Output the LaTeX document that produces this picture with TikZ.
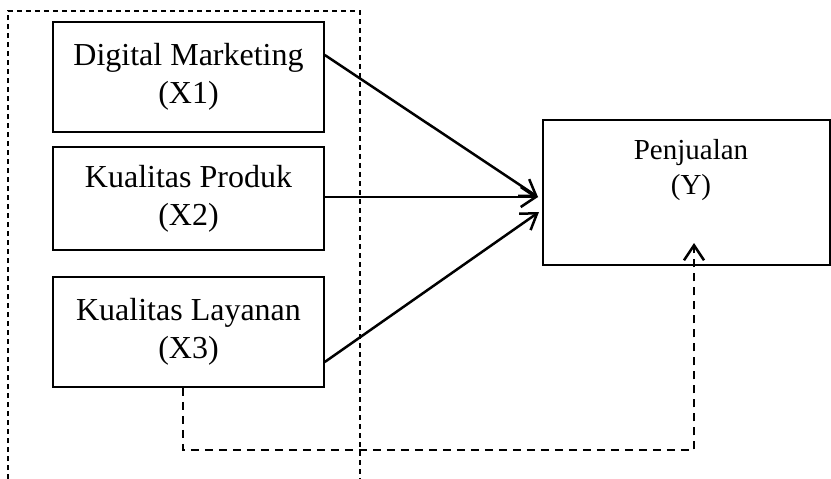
\documentclass[tikz,border=0pt]{standalone}
\usepackage{fontspec}
\setmainfont{Liberation Serif}
\usetikzlibrary{arrows.meta}
\begin{document}
\begin{tikzpicture}[x=1pt,y=-1pt,
  varbox/.style={draw, line width=1.5pt, minimum width=271pt, minimum height=110pt,
    align=center, inner sep=0pt, font=\fontsize{32}{38}\selectfont},
  depbox/.style={draw, line width=1.5pt, minimum width=287pt, minimum height=145pt, inner sep=0pt},
  deplabel/.style={align=center, inner sep=0pt, font=\fontsize{29}{35}\selectfont},
  frame/.style={dashed, dash pattern=on 5pt off 4pt, line width=1.2pt},
  link/.style={line width=2.5pt, -{Straight Barb[length=15pt,width=20pt,line width=2.5pt]}},
  dlink/.style={link, dash pattern=on 8pt off 6pt}]
\useasboundingbox (0,0) rectangle (831,479);

% independent variables
\node[varbox] (x1) at (188.5,77) {Digital Marketing\\(X1)};
\node[varbox, minimum height=103pt] (x2) at (188.5,198.5) {Kualitas Produk\\(X2)};
\node[varbox] (x3) at (188.5,332) {Kualitas Layanan\\(X3)};

% dependent variable
\node[depbox] (y) at (686.5,192.5) {};
\node[deplabel, anchor=north] (ylbl) at (691,139) {Penjualan\\(Y)};

% dashed grouping frame, open at the bottom
\draw[frame] (8,479) -- (8,11) -- (360,11) -- (360,479);

% partial effects
\coordinate (t1) at (538,197);
\coordinate (t3) at (539,212);
\draw[link] (x1.east |- 0,55) -- (t1);
\draw[link] (x2.east |- 0,197) -- (t1);
\draw[link] (x3.east |- 0,362) -- (t3);

% simultaneous effect
\coordinate (xs) at (x3.south -| 183,0);
\coordinate (c1) at (183,450);
\coordinate (c2) at (694,450);
\coordinate (ty) at (694,243);
\draw[dlink] (xs) -- (c1) -- (c2) -- (ty);
\end{tikzpicture}
\end{document}
